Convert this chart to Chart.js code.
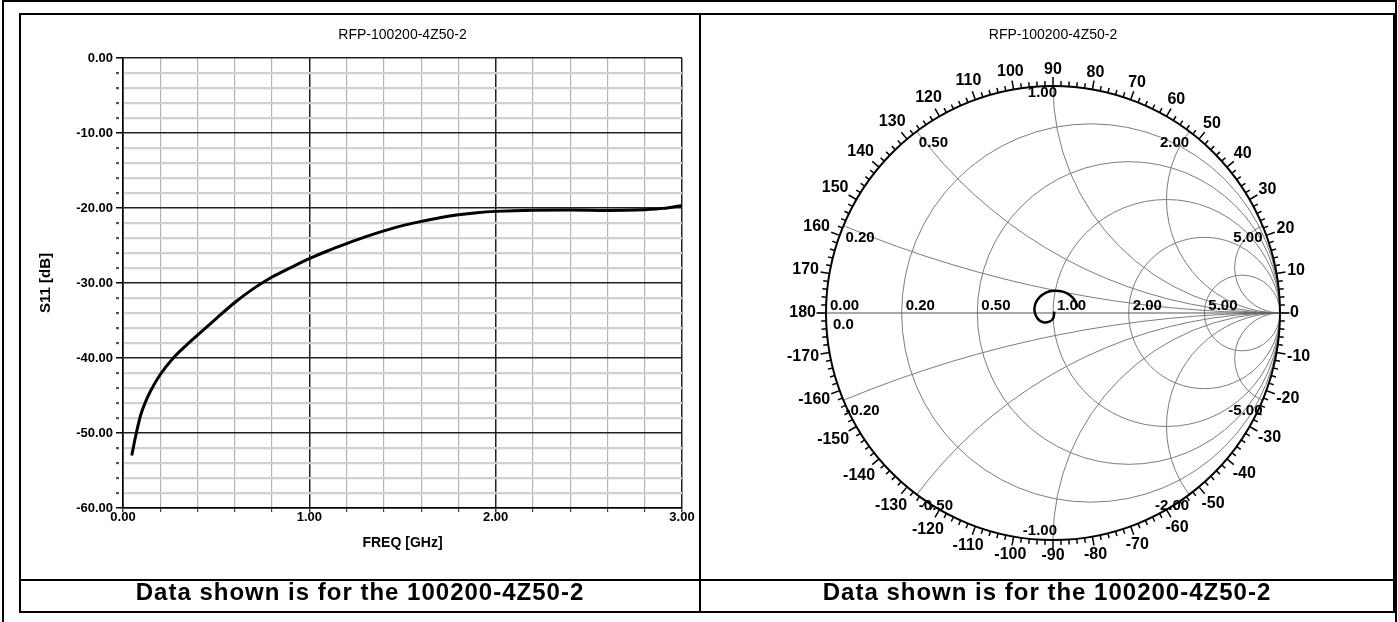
<!DOCTYPE html>
<html>
<head>
<meta charset="utf-8">
<script src="https://cdn.jsdelivr.net/npm/chart.js"></script>
<style>
  body { margin:0; width:1398px; height:622px; position:relative; overflow:hidden; background:#fff; }
  .pageframe { position:absolute; left:2px; top:0; width:1391px; height:700px; border:2px solid #000; }
  .table { position:absolute; left:19px; top:13px; width:1372px; height:596px; border:2px solid #000; }
  .vline { position:absolute; left:699px; top:15px; width:2px; height:596px; background:#000; }
  .hline { position:absolute; left:21px; top:579px; width:1372px; height:2px; background:#000; }
  .caption { position:absolute; top:581px; height:30px; line-height:21px; text-align:center;
             font-family:'Liberation Sans', Arial, sans-serif; font-weight:bold; font-size:24px; letter-spacing:1px; color:#000; }
  canvas { position:absolute; }
</style>
</head>
<body>
<div class="pageframe"></div>
<div class="table"></div>
<div class="vline"></div>
<div class="hline"></div>
<canvas id="s11Chart" width="678" height="564" style="left:21px; top:15px;"></canvas>
<canvas id="smithChart" width="692" height="564" style="left:701px; top:15px;"></canvas>
<div class="caption" style="left:21px; width:678px;" id="cap1"></div>
<div class="caption" style="left:701px; width:692px;" id="cap2"></div>
<script>
const chartTitle = 'RFP-100200-4Z50-2'
const captionText = 'Data shown is for the 100200-4Z50-2'

// S11 magnitude vs frequency
const freqGHz = [0.047, 0.068, 0.095, 0.12, 0.15, 0.2, 0.27, 0.34, 0.4, 0.5, 0.6, 0.7, 0.8, 0.9, 1.0,
  1.1, 1.2, 1.3, 1.4, 1.5, 1.6, 1.7, 1.8, 1.9, 2.0, 2.2, 2.4, 2.6, 2.8, 2.9, 3.0]
const s11dB = [-53.0, -50.4, -47.6, -45.9, -44.3, -42.2, -40.0, -38.3, -36.95, -34.75, -32.6, -30.75, -29.2, -27.95, -26.75,
  -25.7, -24.75, -23.85, -23.05, -22.35, -21.8, -21.3, -20.9, -20.62, -20.45, -20.3, -20.28, -20.33, -20.22, -20.05, -19.65]

// S11 on the Smith chart (reflection coefficient, real / imaginary)
const gammaRe = [0.006, 0.001, -0.016, -0.043, -0.067, -0.081, -0.078, -0.060, -0.031, 0.004, 0.043, 0.075, 0.097, 0.109]
const gammaIm = [0.006, -0.023, -0.038, -0.041, -0.026, 0.006, 0.040, 0.069, 0.090, 0.098, 0.094, 0.078, 0.054, 0.025]

const resistanceCircles = [0.2, 0.5, 1, 2, 5]
const reactanceArcs = [0.2, 0.5, 1, 2, 5]
const angleLabels = [0, 10, 20, 30, 40, 50, 60, 70, 80, 90, 100, 110, 120, 130, 140, 150, 160, 170, 180,
  -10, -20, -30, -40, -50, -60, -70, -80, -90, -100, -110, -120, -130, -140, -150, -160, -170]

const FONT = "'Liberation Sans', Arial, sans-serif"

document.getElementById('cap1').textContent = captionText
document.getElementById('cap2').textContent = captionText

const isMajorX = v => Math.abs(v - Math.round(v)) < 1e-6
const isMajorY = v => Math.abs(v / 10 - Math.round(v / 10)) < 1e-6

new Chart(document.getElementById('s11Chart'), {
  type: 'scatter',
  data: {
    datasets: [{
      data: freqGHz.map((f, i) => ({ x: f, y: s11dB[i] })),
      showLine: true,
      borderColor: '#000',
      borderWidth: 3,
      pointRadius: 0,
      cubicInterpolationMode: 'monotone'
    }]
  },
  options: {
    responsive: false,
    animation: false,
    events: [],
    layout: { padding: { left: 0, right: 17, top: 0, bottom: 0 } },
    plugins: {
      legend: { display: false },
      tooltip: { enabled: false },
      title: {
        display: true, text: chartTitle, fullSize: false, color: '#000',
        font: { family: FONT, size: 14, weight: 'normal', lineHeight: '14px' },
        padding: { top: 13, bottom: 16 }
      }
    },
    scales: {
      x: {
        type: 'linear', min: 0, max: 3,
        afterFit(scale) { scale.height = 71 },
        ticks: {
          stepSize: 0.2, autoSkip: false, maxRotation: 0, padding: -2, color: '#000',
          font: { family: FONT, size: 13, weight: 'bold' },
          callback: v => isMajorX(v) ? v.toFixed(2) : ''
        },
        grid: {
          color: c => isMajorX(c.tick.value) ? '#222' : '#b4b4b4',
          lineWidth: c => isMajorX(c.tick.value) ? 1.5 : 1.2,
          tickLength: 4, tickColor: '#444'
        },
        border: { color: '#000', width: 1.5 },
        title: {
          display: true, text: 'FREQ [GHz]', color: '#000',
          font: { family: FONT, size: 14, weight: 'bold', lineHeight: '18px' },
          padding: { top: 0, bottom: 27 }
        }
      },
      y: {
        min: -60, max: 0,
        afterFit(scale) { scale.width = 102 },
        ticks: {
          stepSize: 2, autoSkip: false, padding: 3, color: '#000',
          font: { family: FONT, size: 13, weight: 'bold' },
          callback: v => isMajorY(v) ? v.toFixed(2) : ''
        },
        grid: {
          color: c => isMajorY(c.tick.value) ? '#222' : '#d0d0d0',
          lineWidth: c => isMajorY(c.tick.value) ? 1.5 : 2.2,
          tickLength: 7,
          tickColor: c => isMajorY(c.tick.value) ? '#000' : '#555',
          tickBorderDash: c => isMajorY(c.tick.value) ? [] : [3, 20]
        },
        border: { color: '#000', width: 1.5 },
        title: {
          display: true, text: 'S11 [dB]', color: '#000',
          font: { family: FONT, size: 15, weight: 'bold', lineHeight: '17px' },
          padding: { top: 16, bottom: 0 }
        }
      }
    }
  }
})

// draws the Smith chart grid, outer angle scale and labels
const smithGrid = {
  id: 'smithGrid',
  beforeDatasetsDraw(chart) {
    const { ctx, scales: { x, y } } = chart
    const P = (u, v) => [x.getPixelForValue(u), y.getPixelForValue(v)]
    const [cx, cy] = P(0, 0)
    const R = x.getPixelForValue(1) - cx

    ctx.save()
    ctx.beginPath()
    ctx.arc(cx, cy, R, 0, 2 * Math.PI)
    ctx.clip()
    ctx.strokeStyle = '#7c7c7c'
    ctx.lineWidth = 1
    resistanceCircles.forEach(r => {
      const [px] = P(r / (1 + r), 0)
      ctx.beginPath()
      ctx.arc(px, cy, R / (1 + r), 0, 2 * Math.PI)
      ctx.stroke()
    })
    reactanceArcs.forEach(xv => [xv, -xv].forEach(s => {
      const [px, py] = P(1, 1 / s)
      ctx.beginPath()
      ctx.arc(px, py, R / Math.abs(s), 0, 2 * Math.PI)
      ctx.stroke()
    }))
    ctx.restore()

    ctx.save()
    // real axis
    ctx.strokeStyle = '#555'
    ctx.lineWidth = 1.2
    ctx.beginPath()
    ctx.moveTo(cx - R - 10, cy)
    ctx.lineTo(cx + R + 12, cy)
    ctx.stroke()

    // outer circle + degree ticks
    ctx.strokeStyle = '#000'
    ctx.lineWidth = 2
    ctx.beginPath()
    ctx.arc(cx, cy, R, 0, 2 * Math.PI)
    ctx.stroke()
    ctx.lineWidth = 1.5
    for (let d = -180; d < 180; d += 2) {
      const a = d * Math.PI / 180
      const len = d % 10 === 0 ? 9 : 5
      ctx.beginPath()
      ctx.moveTo(cx + R * Math.cos(a), cy - R * Math.sin(a))
      ctx.lineTo(cx + (R + len) * Math.cos(a), cy - (R + len) * Math.sin(a))
      ctx.stroke()
    }

    ctx.fillStyle = '#000'
    ctx.font = 'bold 16px ' + FONT
    ctx.textAlign = 'center'
    ctx.textBaseline = 'middle'
    angleLabels.forEach(d => {
      const a = d * Math.PI / 180
      const txt = String(d)
      const w = ctx.measureText(txt).width
      const dist = R + 10 + Math.abs(Math.cos(a)) * w / 2 + Math.abs(Math.sin(a)) * 6
      ctx.fillText(txt, cx + dist * Math.cos(a), cy - dist * Math.sin(a))
    })

    // resistance labels on the real axis
    ctx.font = 'bold 15px ' + FONT
    ctx.textAlign = 'left'
    ctx.textBaseline = 'alphabetic'
    ;[0, ...resistanceCircles].forEach(r => {
      const [px] = P((r - 1) / (r + 1), 0)
      ctx.fillText(r.toFixed(2), px + 4, cy - 3)
    })
    ctx.fillText('0.0', cx - R + 7, cy + 16)

    // reactance labels on the rim
    reactanceArcs.forEach(xv => [xv, -xv].forEach(s => {
      const gr = (s * s - 1) / (s * s + 1)
      const gi = 2 * s / (s * s + 1)
      const [px, py] = P(gr, gi)
      const txt = s.toFixed(2)
      if (Math.abs(gr) < 1e-9) {
        ctx.textAlign = 'right'
        ctx.fillText(txt, px + 4, s > 0 ? py + 11 : py - 5)
      } else {
        ctx.textAlign = gr < 0 ? 'left' : 'right'
        ctx.fillText(txt, px + (gr < 0 ? 2 : 0), s > 0 ? py + 16 : py + 15)
      }
    }))
    ctx.restore()
  }
}

new Chart(document.getElementById('smithChart'), {
  type: 'scatter',
  data: {
    datasets: [{
      data: gammaRe.map((g, i) => ({ x: g, y: gammaIm[i] })),
      showLine: true,
      borderColor: '#000',
      borderWidth: 2.5,
      pointRadius: 0,
      tension: 0.4
    }]
  },
  options: {
    responsive: false,
    animation: false,
    events: [],
    layout: { padding: { left: 125, right: 113, top: 0, bottom: 39 } },
    plugins: {
      legend: { display: false },
      tooltip: { enabled: false },
      title: {
        display: true, text: chartTitle, color: '#000',
        font: { family: FONT, size: 14, weight: 'normal', lineHeight: '14px' },
        padding: { top: 13, bottom: 44 }
      }
    },
    scales: {
      x: { type: 'linear', min: -1, max: 1, display: false },
      y: { type: 'linear', min: -1, max: 1, display: false }
    }
  },
  plugins: [smithGrid]
})
</script>
</body>
</html>
